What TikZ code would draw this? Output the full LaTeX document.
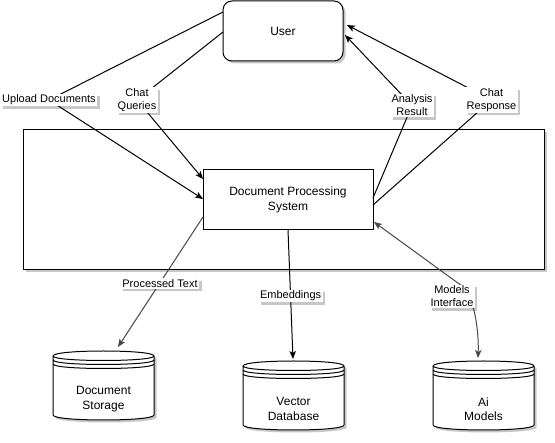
\documentclass[tikz,border=0pt]{standalone}
\usepackage{fontspec}
\setmainfont{Liberation Sans}
\usetikzlibrary{arrows.meta,shadows}

\newcommand{\dbcyl}[5]{%
  \begin{scope}[shift={(#2,#3)}]
    \fill[black,opacity=.22] (2.5,7.5) .. controls (2.5,0.833) and (103.5,0.833) .. (103.5,7.5)
      -- (103.5,66.5) .. controls (103.5,73.167) and (2.5,73.167) .. (2.5,66.5) -- cycle;
    \draw[line width=1pt,fill=white] (0,5) .. controls (0,-1.667) and (101,-1.667) .. (101,5)
      -- (101,64) .. controls (101,70.667) and (0,70.667) .. (0,64) -- cycle;
    \draw[line width=1pt] (0,5) .. controls (0,11) and (101,11) .. (101,5);
    \draw[line width=1pt] (0,9) .. controls (0,15) and (101,15) .. (101,9);
    \draw[line width=1pt] (0,13) .. controls (0,19) and (101,19) .. (101,13);
    \coordinate (#1) at (50.5,34.5);
    \node (#1txt) at (50.5,48) {#4\\#5};
  \end{scope}}

\begin{document}
\begin{tikzpicture}[x=1pt,y=-1pt,
  every node/.style={font=\fontsize{12}{14.5}\selectfont, align=center},
  box/.style={draw=black, line width=1pt, fill=white, inner sep=0pt},
  shad/.style={drop shadow={shadow xshift=2.5pt,shadow yshift=-2.5pt,opacity=.22,fill=black}},
  lbl/.style={fill=white, inner xsep=1.5pt, inner ysep=1pt, font=\fontsize{11}{13}\selectfont, shad},
  >={Stealth[length=8pt,width=6.5pt,inset=2pt]},
  edge/.style={line width=1pt, draw=black, ->},
  edgeg/.style={line width=1pt, draw=black!72, ->},
]
\fill[white] (0,0) rectangle (555,443);
\useasboundingbox (0,0) rectangle (555,443);

% shapes
\node[box,shad,minimum width=521pt,minimum height=140pt] (sys) at (283.5,200) {};
\node[box,shad,rounded corners=9pt,minimum width=120pt,minimum height=60pt] (user) at (283,31) {User};
\node[box,minimum width=170pt,minimum height=60pt] (dps) at (288,200) {Document Processing\\System};

\dbcyl{docst}{53}{351}{Document}{Storage}
\dbcyl{vecdb}{243}{361}{Vector}{Database}
\dbcyl{aimod}{433}{361}{Ai}{Models}

% connector end points
\coordinate (uUp) at (223,12);
\coordinate (uCq) at (223,32);
\coordinate (uAr) at (345,35);
\coordinate (uCr) at (347,25);
\coordinate (dUp) at (203,199);
\coordinate (dCq) at (203,179);
\coordinate (dAr) at (373,198);
\coordinate (dCr) at (373,205);
\coordinate (dPt) at (203,217);
\coordinate (dEm) at (288,230);
\coordinate (dMi) at (374,222);
\coordinate (sDoc) at (118,347);
\coordinate (sVec) at (293,359);
\coordinate (sAi) at (478,358);
% waypoints
\coordinate (w1) at (49,100);
\coordinate (w2) at (137,100);
\coordinate (w3) at (412,105.5);
\coordinate (w4) at (491.5,100);
\coordinate (w5) at (160,283.5);
\coordinate (w6) at (290.6,296);
\coordinate (w7) at (462,286);
\coordinate (w7l) at (452,296.5);

% connectors
\draw[edge] (uUp) -- (w1) -- (dUp);
\draw[edge] (uCq) -- (w2) -- (dCq);
\draw[edge] (dAr) -- (w3) -- (uAr);
\draw[edge] (dCr) -- (w4) -- (uCr);
\draw[edgeg] (dPt) -- (sDoc);
\draw[edge] (dEm) -- (sVec);
\draw[edgeg,<->] (dMi) -- (w7) .. controls (474,296) and (479,330) .. (sAi);

% labels
\node[lbl] (lUp) at (w1) {Upload Documents};
\node[lbl] (lCq) at (w2) {Chat\\Queries};
\node[lbl] (lAr) at (w3) {Analysis\\Result};
\node[lbl] (lCr) at (w4) {Chat\\Response};
\node[lbl] (lPt) at (w5) {Processed Text};
\node[lbl] (lEm) at (w6) {Embeddings};
\node[lbl] (lMi) at (w7l) {Models\\Interface};
\end{tikzpicture}
\end{document}
